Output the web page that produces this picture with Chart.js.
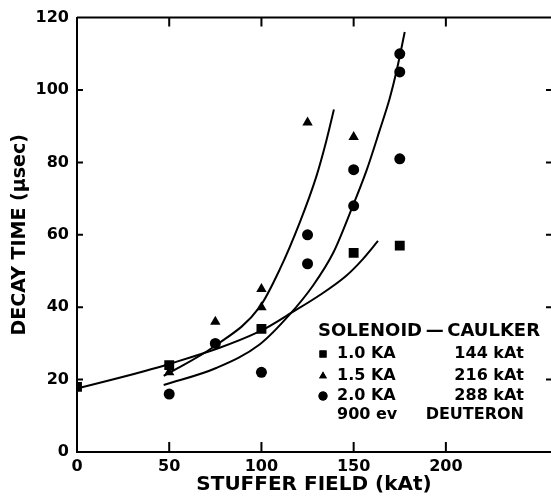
<!DOCTYPE html>
<html><head><meta charset="utf-8">
<script src="https://cdn.jsdelivr.net/npm/chart.js@4.4.1/dist/chart.umd.min.js"></script>
<style>html,body{margin:0;padding:0;background:#fff;}canvas{display:block;}</style>
</head><body>
<canvas id="c" width="551" height="499"></canvas>
<script>
// measured points
const sq10X = [0, 50, 100, 150, 175];
const sq10Y = [18, 24, 34, 55, 57];
const tri15X = [50, 75, 100, 100, 125, 150];
const tri15Y = [22, 36, 45, 40, 91, 87];
const cir20X = [50, 75, 100, 125, 125, 150, 150, 175, 175, 175];
const cir20Y = [16, 30, 22, 60, 52, 78, 68, 110, 105, 81];
// hand-drawn fit curves
const fit10X = [0, 50, 99, 117, 131.5, 146, 155, 163.2];
const fit10Y = [17.5, 24.3, 33.3, 38.7, 43.3, 48.7, 53.3, 58.3];
const fit15X = [47, 74.5, 99, 110, 120.7, 129.7, 135.2, 139.3];
const fit15Y = [21, 29.2, 40, 50.5, 63.3, 76, 86, 94.6];
const fit20X = [47, 75.5, 99, 115, 128, 139, 148.7, 157, 164, 169.6, 173.2, 177.7];
const fit20Y = [18.5, 23.2, 29.7, 37.8, 46, 55.1, 66.9, 77.8, 88.7, 97.8, 105.1, 116];
// ticks
const xTicks = [0, 50, 100, 150, 200];
const xInnerTicks = [50, 100, 150, 200];
const yTicks = [0, 20, 40, 60, 80, 100, 120];
const yInnerTicks = [20, 40, 60, 80, 100];
// legend text
const legendTitle = 'SOLENOID\u2009\u2014\u2009CAULKER';
const legendCurrents = ['1.0 KA', '1.5 KA', '2.0 KA'];
const legendFields = ['144 kAt', '216 kAt', '288 kAt'];
const legendStyles = ['rect', 'triangle', 'circle'];
const legendNote = ['900 ev', 'DEUTERON'];
const xTitle = 'STUFFER FIELD (kAt)';
const yTitle = 'DECAY TIME (\u03bcsec)';

const FONT = '"DejaVu Sans", sans-serif';
const pts = (xs, ys) => xs.map((x, i) => ({x, y: ys[i]}));

const frame = {
  id: 'frame',
  afterDraw(chart) {
    const ctx = chart.ctx, a = chart.chartArea;
    const xs = chart.scales.x, ys = chart.scales.y;
    ctx.save();
    ctx.strokeStyle = '#000';
    ctx.lineWidth = 2;
    ctx.beginPath();
    ctx.moveTo(a.left, a.top); ctx.lineTo(a.right, a.top);
    xInnerTicks.forEach(v => {
      const px = xs.getPixelForValue(v);
      ctx.moveTo(px, a.top); ctx.lineTo(px, a.top + 9);
      ctx.moveTo(px, a.bottom); ctx.lineTo(px, a.bottom - 10);
    });
    yInnerTicks.forEach(v => {
      const py = ys.getPixelForValue(v);
      ctx.moveTo(a.left, py); ctx.lineTo(a.left + 6, py);
      ctx.moveTo(a.right, py); ctx.lineTo(a.right - 5, py);
    });
    ctx.stroke();
    // legend block
    ctx.fillStyle = '#000';
    ctx.textBaseline = 'middle';
    ctx.textAlign = 'left';
    ctx.font = 'bold 18px ' + FONT;
    ctx.fillText(legendTitle, 318, 331);
    ctx.font = 'bold 16px ' + FONT;
    const rows = [354, 376, 396];
    rows.forEach((y, i) => {
      Chart.helpers.drawPoint(ctx, {pointStyle: legendStyles[i], radius: legendStyles[i] === 'rect' ? 5 : 4.5, borderWidth: 0}, 323, y);
      ctx.fill();
      ctx.textAlign = 'left';
      ctx.fillText(legendCurrents[i], 337, y);
      ctx.textAlign = 'right';
      ctx.fillText(legendFields[i], 524, y);
    });
    ctx.textAlign = 'left';
    ctx.fillText(legendNote[0], 337, 415);
    ctx.textAlign = 'right';
    ctx.fillText(legendNote[1], 524, 415);
    ctx.restore();
  }
};

const markerDs = (label, data, style, r) => ({
  type: 'scatter', label, data, pointStyle: style, pointRadius: r,
  backgroundColor: '#000', borderColor: '#000', borderWidth: 0, showLine: false
});
const curveDs = (label, data) => ({
  type: 'scatter', label, data, showLine: true, pointRadius: 0,
  borderColor: '#000', borderWidth: 2, cubicInterpolationMode: 'monotone', fill: false
});

new Chart(document.getElementById('c'), {
  type: 'scatter',
  data: {
    datasets: [
      curveDs('fit 1.0 KA', pts(fit10X, fit10Y)),
      curveDs('fit 1.5 KA', pts(fit15X, fit15Y)),
      curveDs('fit 2.0 KA', pts(fit20X, fit20Y)),
      markerDs('1.0 KA', pts(sq10X, sq10Y), 'rect', 7),
      markerDs('1.5 KA', pts(tri15X, tri15Y), 'triangle', 6),
      markerDs('2.0 KA', pts(cir20X, cir20Y), 'circle', 5.5)
    ]
  },
  options: {
    responsive: false,
    animation: false,
    layout: {autoPadding: false, padding: {top: 12, right: 0, left: 0, bottom: 0}},
    plugins: {legend: {display: false}, tooltip: {enabled: false}},
    scales: {
      x: {
        type: 'linear', min: 0, max: 257,
        afterBuildTicks: s => { s.ticks = xTicks.map(v => ({value: v})); },
        afterFit: s => { s.height = 47; s.paddingRight = 0; },
        grid: {display: false, drawTicks: false},
        border: {display: true, color: '#000', width: 2},
        ticks: {color: '#000', padding: 5, font: {family: FONT, size: 16, weight: 'bold'}, maxRotation: 0},
        title: {display: true, text: xTitle, color: '#000', padding: {top: 0, bottom: 2},
                font: {family: FONT, size: 20, weight: 'bold'}}
      },
      y: {
        min: 0, max: 120,
        afterBuildTicks: s => { s.ticks = yTicks.map(v => ({value: v})); },
        afterFit: s => { s.width = 77; },
        grid: {display: false, drawTicks: false},
        border: {display: true, color: '#000', width: 2},
        ticks: {color: '#000', padding: 8, font: {family: FONT, size: 16, weight: 'bold'}},
        title: {display: true, text: yTitle, color: '#000', padding: {top: 9, bottom: 0},
                font: {family: FONT, size: 19, weight: 'bold'}}
      }
    }
  },
  plugins: [frame]
});
</script>
</body></html>
